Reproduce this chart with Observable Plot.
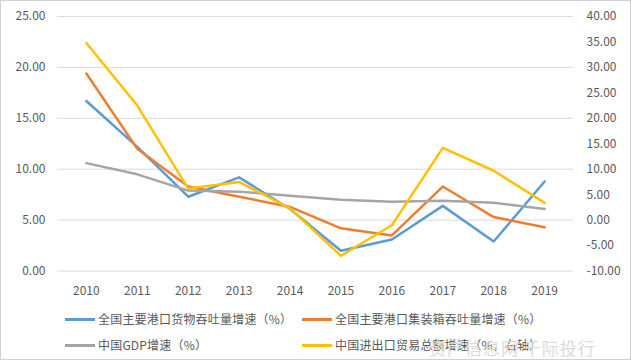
<!DOCTYPE html>
<html><head><meta charset="utf-8">
<script src="https://cdn.jsdelivr.net/npm/d3@7"></script>
<script src="https://cdn.jsdelivr.net/npm/@observablehq/plot@0.6"></script>
<style>
body{margin:0;background:#fff;}
#wrap{position:relative;width:629px;height:358px;border:1px solid #d0d0d0;overflow:hidden;font-family:"Noto Sans CJK SC","Noto Sans",sans-serif;}
#chart{position:absolute;left:-1px;top:-1px;}
.leg{position:absolute;font-size:12px;color:#595959;white-space:nowrap;line-height:14px;letter-spacing:0.2px;}
.leg span.sw{display:inline-block;width:30px;height:3px;vertical-align:middle;margin-right:3px;position:relative;top:-1px;}
#wm{position:absolute;left:428px;top:334px;font-size:17px;color:#dadada;letter-spacing:1px;}
</style></head>
<body><div id="wrap"><div id="chart"></div>
<div class="leg" style="left:64px;top:311px"><span class="sw" style="background:#5B9BD5"></span>全国主要港口货物吞吐量增速（%）</div>
<div class="leg" style="left:301px;top:311px"><span class="sw" style="background:#ED7D31"></span>全国主要港口集装箱吞吐量增速（%）</div>
<div class="leg" style="left:64px;top:337px"><span class="sw" style="background:#A5A5A5"></span>中国GDP增速（%）</div>
<div class="leg" style="left:301px;top:337px"><span class="sw" style="background:#FFC000"></span>中国进出口贸易总额增速（%，右轴）</div>
<div id="wm">资产信息网 千际投行</div>
</div>
<script>
const years = ["2010","2011","2012","2013","2014","2015","2016","2017","2018","2019"];
const portCargo = [16.7, 12.2, 7.3, 9.2, 6.1, 2.0, 3.1, 6.4, 2.9, 8.8];
const container = [19.4, 12.0, 8.3, 7.3, 6.3, 4.2, 3.5, 8.3, 5.3, 4.3];
const gdp = [10.6, 9.5, 7.9, 7.8, 7.4, 7.0, 6.8, 6.9, 6.7, 6.1];
const trade = [34.8, 22.5, 6.2, 7.5, 2.3, -7.0, -1.0, 14.2, 9.7, 3.4];
const leftTicks = [0, 5, 10, 15, 20, 25];
const rightTicks = [-10, -5, 0, 5, 10, 15, 20, 25, 30, 35, 40];
const colors = {cargo:"#5B9BD5", container:"#ED7D31", gdp:"#A5A5A5", trade:"#FFC000"};

// right axis mapped onto left scale: left = (right + 10) / 2
const toLeft = v => (v + 10) / 2;
const rows = (arr, key, f = v => v) => years.map((y, i) => ({year: y, v: f(arr[i]), key}));
const data = [
  ...rows(portCargo, "cargo"),
  ...rows(container, "container"),
  ...rows(gdp, "gdp"),
  ...rows(trade, "trade", toLeft)
];

const chart = Plot.plot({
  width: 631, height: 300,
  marginLeft: 57, marginRight: 57, marginTop: 16, marginBottom: 29,
  style: {fontFamily: '"Noto Sans CJK SC","Noto Sans",sans-serif', fontSize: "12px", color: "#595959", background: "transparent"},
  x: {type: "point", domain: years, padding: 0.5, label: null},
  y: {domain: [0, 25], label: null},
  marks: [
    Plot.gridY(leftTicks, {stroke: "#d9d9d9", strokeOpacity: 1, strokeWidth: 1}),
    Plot.axisY(leftTicks, {anchor: "left", tickSize: 0, tickPadding: 12, tickFormat: d => d.toFixed(2), label: null, fill: "#595959"}),
    Plot.axisY(rightTicks.map(toLeft), {anchor: "right", tickSize: 0, tickPadding: 13, tickFormat: d => (d * 2 - 10).toFixed(2), label: null, fill: "#595959"}),
    Plot.axisX({tickSize: 0, tickPadding: 15, label: null, fill: "#595959"}),
    Plot.line(data, {x: "year", y: "v", z: "key", stroke: d => colors[d.key], strokeWidth: 2.5, strokeLinejoin: "round", strokeLinecap: "round"})
  ]
});
document.getElementById("chart").appendChild(chart);
</script>
</body></html>
